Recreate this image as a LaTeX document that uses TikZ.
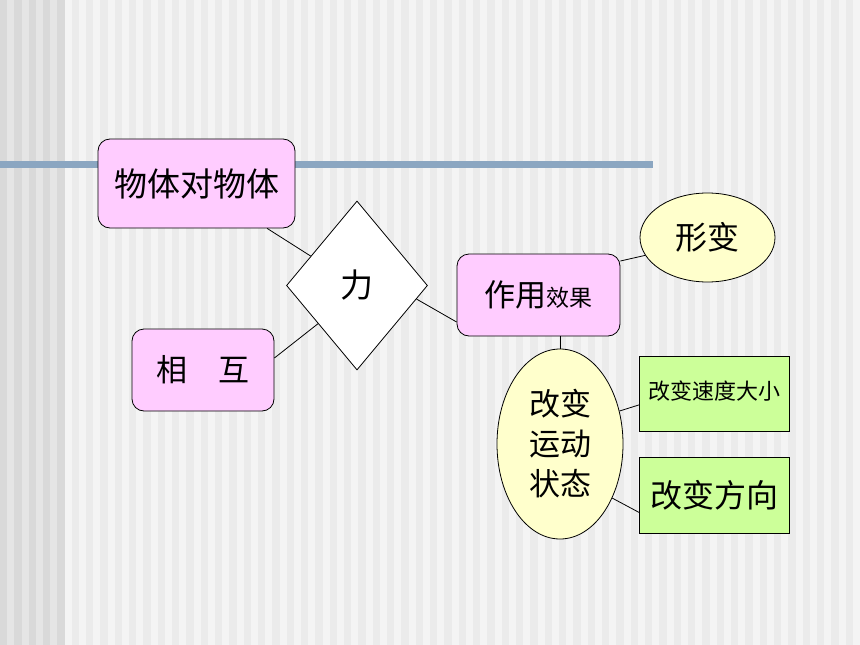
\documentclass[tikz,border=0pt]{standalone}
\usepackage{fontspec}
\newfontfamily\cjk{Noto Sans CJK SC}
\usepackage{tikz}
\usetikzlibrary{calc,shapes.geometric}
\definecolor{bgLight}{HTML}{F4F4F4}
\definecolor{bgMid}{HTML}{EBEBEB}
\definecolor{bgLeft}{HTML}{E5E5E5}
\definecolor{bgDark}{HTML}{D9D9D9}
\definecolor{barBlue}{HTML}{8BA6C1}
\definecolor{boxPink}{HTML}{FFCCFF}
\definecolor{ovalYellow}{HTML}{FFFFCC}
\definecolor{boxGreen}{HTML}{CCFF99}

\begin{document}
\begin{tikzpicture}[x=1pt, y=-1pt,
	pinkbox/.style={draw=black, line width=0.8pt, fill=boxPink, rounded corners=12pt, inner sep=0pt, font=\cjk},
	ovalnode/.style={draw=black, line width=0.8pt, fill=ovalYellow, ellipse, inner sep=0pt, font=\cjk},
	greenbox/.style={draw=black, line width=0.8pt, fill=boxGreen, inner sep=0pt, font=\cjk},
	link/.style={draw=black, line width=0.8pt}]
			%%%%% START %%%%%
			
			\useasboundingbox (0, 0) rectangle (860, 645);
			\fill[bgLight] (0, 0) rectangle (860, 645);
			\foreach \i in {0,2,...,118}
				\fill[bgMid] ({\i*7.1667}, 0) rectangle ({(\i+1)*7.1667}, 645);
			\fill[bgLeft] (0, 0) rectangle (64.5, 645);
			\foreach \i in {0,2,...,8}
				\fill[bgDark] ({\i*7.1667}, 0) rectangle ({(\i+1)*7.1667}, 645);
			
			\fill[barBlue] (0, 161) rectangle (653, 168);
			
			\node[pinkbox, minimum width=197, minimum height=89] (wt) at (196.5, 183.5) {\fontsize{33}{33}\selectfont 物体对物体};
			\node[pinkbox, minimum width=142, minimum height=82] (xh) at (203, 370) {\fontsize{31}{31}\selectfont 相　互};
			\node[draw=black, line width=0.8pt, fill=white, diamond, inner sep=0pt, minimum width=141, minimum height=169, font=\cjk] (li) at (357, 285.5) {\fontsize{33}{33}\selectfont 力};
			\node[pinkbox, minimum width=163, minimum height=82] (zy) at (538.5, 295) {\fontsize{31}{31}\selectfont 作用{\fontsize{23}{23}\selectfont 效果}};
			\node[ovalnode, minimum width=135, minimum height=89] (xb) at (707.5, 237.5) {\fontsize{32}{32}\selectfont 形变};
			\node[ovalnode, minimum width=126, minimum height=190, align=center, font=\cjk\fontsize{31}{40}\selectfont] (zs) at (560, 444) {改变\\运动\\状态};
			\node[greenbox, minimum width=150, minimum height=75, anchor=north west, text depth=8pt] (sd) at (639, 356) {\fontsize{22}{22}\selectfont 改变速度大小};
			\node[greenbox, minimum width=150, minimum height=76, anchor=north west] (fx) at (639, 457) {\fontsize{32}{32}\selectfont 改变方向};
			
			\draw[link] (wt) -- (li);
			\draw[link] ($(xh.east)+(0,-12)$) -- ($(li.west)!0.45!(li.south)$);
			\draw[link] ($(li.east)!0.16!(li.south)$) -- ($(zy.west)+(0,27)$);
			\draw[link] ($(zy.east)+(0,-34)$) -- (xb.196);
			\draw[link] (zs.north) -- (zs.north |- zy.south);
			\draw[link] (zs.29) -- ($(sd.west)+(0,11)$);
			\draw[link] (zs.-46) -- ($(fx.west)+(0,17)$);
			
			%%%%% END %%%%%
		\end{tikzpicture}
\end{document}
